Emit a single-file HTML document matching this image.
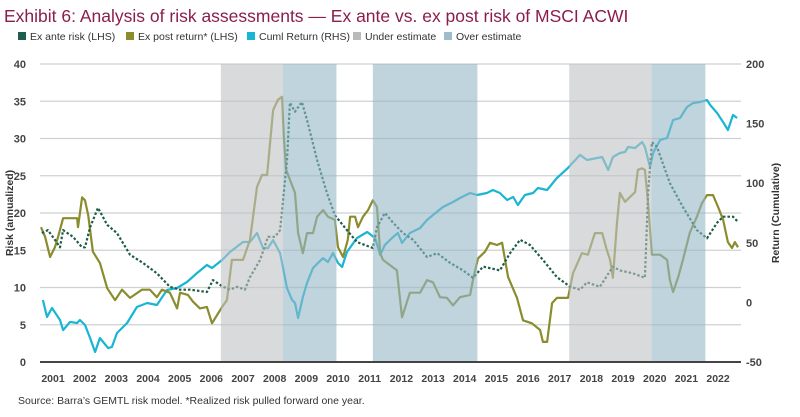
<!DOCTYPE html>
<html><head><meta charset="utf-8"><style>
body{margin:0;background:#fff;width:800px;height:412px;overflow:hidden;font-family:"Liberation Sans",sans-serif}
</style></head><body>
<svg id="c" width="800" height="412" xmlns="http://www.w3.org/2000/svg" font-family="Liberation Sans, sans-serif">
<text x="4" y="22" font-size="17.5" fill="#8b1d4d">Exhibit 6: Analysis of risk assessments — Ex ante vs. ex post risk of MSCI ACWI</text>
<g font-size="10.5" fill="#333">
<g><rect x="18" y="32" width="8" height="8" fill="#1d5e50"/><text x="30" y="40">Ex ante risk (LHS)</text></g>
<g><rect x="126" y="32" width="8" height="8" fill="#8a8c2e"/><text x="138" y="40">Ex post return* (LHS)</text></g>
<g><rect x="247" y="32" width="8" height="8" fill="#1ab5d3"/><text x="259" y="40">Cuml Return (RHS)</text></g>
<g><rect x="353" y="32" width="8" height="8" fill="#b9babc"/><text x="365" y="40">Under estimate</text></g>
<g><rect x="444" y="32" width="8" height="8" fill="#9fbccb"/><text x="456" y="40">Over estimate</text></g>
</g>
<g id="grid"></g><g id="lines"></g><g id="shade"></g><g id="axes"></g>
<text transform="translate(13,213) rotate(-90)" text-anchor="middle" font-size="10.5" font-weight="bold" fill="#333">Risk (annualized)</text>
<text transform="translate(779,213) rotate(-90)" text-anchor="middle" font-size="10.5" font-weight="bold" fill="#333">Return (Cumulative)</text>
<text x="18" y="404" font-size="10.5" fill="#333">Source: Barra’s GEMTL risk model. *Realized risk pulled forward one year.</text>
</svg>
<script>
const leftTicks=[0,5,10,15,20,25,30,35,40];
const rightTicks=[-50,0,50,100,150,200];
const yearLabels=[2001,2002,2003,2004,2005,2006,2007,2008,2009,2010,2011,2012,2013,2014,2015,2016,2017,2018,2019,2020,2021,2022];
const underStart=[2006.3,2017.3];
const underEnd=[2008.26,2019.9];
const overStart=[2008.26,2011.1,2019.9];
const overEnd=[2009.95,2014.4,2021.6];
const exPostDates=[2000.62,2000.75,2000.91,2001.06,2001.16,2001.32,2001.76,2001.79,2001.92,2002.01,2002.11,2002.26,2002.48,2002.71,2002.96,2003.18,2003.43,2003.81,2004.06,2004.28,2004.44,2004.69,2004.92,2005.01,2005.26,2005.42,2005.64,2005.86,2006.02,2006.18,2006.34,2006.49,2006.65,2007.00,2007.22,2007.44,2007.60,2007.76,2007.95,2008.10,2008.23,2008.29,2008.36,2008.64,2008.74,2008.89,2009.02,2009.21,2009.34,2009.53,2009.68,2009.90,2010.00,2010.16,2010.31,2010.38,2010.54,2010.63,2010.79,2010.95,2011.10,2011.23,2011.33,2011.42,2011.86,2012.02,2012.27,2012.59,2012.81,2013.00,2013.22,2013.44,2013.63,2013.85,2014.17,2014.26,2014.42,2014.64,2014.80,2015.02,2015.18,2015.37,2015.65,2015.84,2016.12,2016.38,2016.47,2016.60,2016.76,2016.91,2017.26,2017.42,2017.70,2017.89,2018.11,2018.34,2018.49,2018.59,2018.68,2018.81,2018.90,2019.06,2019.38,2019.47,2019.60,2019.69,2019.79,2019.91,2020.17,2020.39,2020.48,2020.58,2020.74,2020.89,2021.11,2021.33,2021.49,2021.65,2021.84,2022.00,2022.16,2022.31,2022.44,2022.53,2022.63];
const exPostValues=[18.1,16.8,14.1,15.4,16.8,19.3,19.3,18.1,22.1,21.7,19.7,14.8,13.3,9.9,8.3,9.7,8.6,9.7,9.7,8.7,9.7,9.3,7.2,9.3,9.0,8.1,7.2,7.4,5.2,6.3,7.4,8.3,13.7,13.7,16.4,23.5,25.1,25.1,33.8,35.2,35.6,30,25.8,22.7,17.3,14.6,17.3,17.3,19.5,20.4,19.5,19.1,15.4,14.1,16.4,19.5,19.5,18.1,19.5,20.4,21.7,20.8,14.6,13.7,12.3,6.0,9.3,9.3,11.0,10.7,8.7,8.6,7.6,8.7,9.0,11.0,13.9,14.8,16.0,15.7,16.0,11.4,8.6,5.6,5.2,4.3,2.7,2.7,7.9,8.6,8.6,11.9,14.6,14.4,17.3,17.3,15.0,13.7,11.3,18.7,22.7,21.5,22.8,25.8,26.0,25.8,21.3,14.4,14.4,13.7,11.0,9.4,11.4,13.7,17.4,19.5,21.3,22.4,22.4,20.8,19.1,16.1,15.3,16.1,15.4];
const exAnteDates=[2000.65,2000.84,2001.06,2001.22,2001.32,2001.63,2001.92,2002.01,2002.17,2002.42,2002.71,2003.02,2003.43,2003.84,2004.28,2004.69,2005.01,2005.33,2005.86,2006.05,2006.37,2006.59,2006.81,2007.06,2007.22,2007.54,2007.79,2008.01,2008.17,2008.39,2008.48,2008.64,2008.86,2009.02,2009.34,2009.65,2009.90,2010.28,2010.60,2011.10,2011.23,2011.48,2011.74,2012.05,2012.37,2012.81,2013.13,2013.54,2013.95,2014.26,2014.58,2015.11,2015.43,2015.75,2016.06,2016.47,2016.91,2017.33,2017.64,2017.86,2018.27,2018.68,2018.90,2019.31,2019.69,2019.79,2019.91,2020.07,2020.48,2020.89,2021.33,2021.65,2021.97,2022.16,2022.47,2022.63];
const exAnteValues=[17.3,17.7,16.4,15.4,17.7,16.8,15.4,15.4,18.1,20.7,18.4,17.3,14.4,13.3,11.9,10.1,9.7,9.7,9.4,11.0,10.1,9.7,10.1,9.7,11.4,13.7,16.8,16.8,17.7,27.1,34.8,33.6,34.9,32.5,27.1,22.7,19.7,17.7,16.1,15.3,18.1,20.0,18.7,17.3,16.4,14.1,14.6,13.3,12.3,11.3,12.8,12.3,14.6,16.4,15.7,13.7,11.4,10.1,9.7,10.7,10.1,12.8,12.3,11.9,11.3,22.7,29.5,28.9,24.0,20.8,17.7,16.6,18.7,19.5,19.5,18.8];
const cumlDates=[2000.68,2000.81,2000.97,2001.22,2001.32,2001.54,2001.76,2001.85,2002.01,2002.17,2002.33,2002.48,2002.74,2002.86,2003.02,2003.34,2003.65,2003.97,2004.28,2004.60,2004.92,2005.23,2005.55,2005.86,2006.02,2006.34,2006.59,2007.00,2007.22,2007.44,2007.63,2007.79,2007.95,2008.17,2008.39,2008.55,2008.64,2008.74,2008.89,2009.02,2009.21,2009.37,2009.53,2009.68,2009.84,2010.00,2010.13,2010.28,2010.60,2010.92,2011.17,2011.33,2011.48,2011.74,2011.89,2012.02,2012.27,2012.59,2012.81,2013.00,2013.31,2013.63,2013.85,2014.17,2014.39,2014.70,2014.89,2015.11,2015.34,2015.53,2015.68,2015.90,2016.16,2016.31,2016.60,2016.91,2017.26,2017.64,2017.86,2018.18,2018.34,2018.53,2018.68,2018.90,2019.06,2019.16,2019.38,2019.60,2019.69,2019.85,2019.95,2020.17,2020.39,2020.58,2020.80,2021.02,2021.21,2021.43,2021.65,2021.75,2021.97,2022.16,2022.31,2022.47,2022.60];
const cumlValues=[2.0,-12.2,-4.7,-14.8,-23.2,-16.4,-17.3,-14.8,-19.0,-29.9,-41.6,-29.9,-38.3,-37.4,-25.7,-17.3,-3.9,-0.5,-2.2,10.4,12.1,17.1,24.7,31.4,28.9,35.6,42.3,50.7,50.7,58.2,45.6,45.6,52.3,41.4,12,2.0,-0.5,-13.1,4.5,16.3,28.9,33.1,37.2,33.9,41.4,33.1,29.7,42.3,54.0,59.1,54.0,39.8,48.2,54.9,58.2,49.8,58.2,62.4,69.1,73.3,80.0,84.2,87.6,91.8,90.1,91.8,94.3,91.8,85.9,88.4,81.7,90.1,91.8,96.0,94.3,104.4,112.8,123.7,119.5,121.1,122.0,111.1,122.0,125.3,126.2,130.4,129.5,134.6,130.4,113.6,125.3,136.2,137.9,153.0,154.7,163.9,167.3,168.1,169.8,165.6,158.9,151.3,144.6,157.2,154.7];

const NS='http://www.w3.org/2000/svg';
const X0=40,X1=741,YT=64,YB=362;
const xs=t=>53+(t-2001)*31.67;
const yl=v=>YB-(v/40)*(YB-YT);
const yr=v=>YB-((v+50)/250)*(YB-YT);
function mk(tag,attrs,parent){const e=document.createElementNS(NS,tag);for(const k in attrs)e.setAttribute(k,attrs[k]);parent.appendChild(e);return e;}
const grid=document.getElementById('grid'),lines=document.getElementById('lines'),shade=document.getElementById('shade'),axes=document.getElementById('axes');
leftTicks.forEach(v=>{
  if(v>0){const g=mk('line',{x1:X0,x2:X1,y1:yl(v),y2:yl(v),stroke:'#cfd0d2','stroke-width':1.2},grid);
  
  }
  const t=mk('text',{x:26,y:yl(v)+4,'text-anchor':'end','font-size':11,'font-weight':'bold',fill:'#444'},axes);t.textContent=v;
  
  
});
rightTicks.forEach(v=>{
  const t=mk('text',{x:746,y:yr(v)+4,'font-size':11,'font-weight':'bold',fill:'#444'},axes);t.textContent=v;
  
  
});
yearLabels.forEach(y=>{
  const t=mk('text',{x:xs(y),y:382,'text-anchor':'middle','font-size':10.5,'font-weight':'bold',fill:'#444'},axes);t.textContent=y;
  
  
});
const base=mk('line',{x1:X0,x2:X1,y1:YB,y2:YB,stroke:'#444','stroke-width':2},axes);


function series(d,v,yf,color,name,dash){
  const pts=d.map((t,i)=>xs(t).toFixed(1)+','+yf(v[i]).toFixed(1)).join(' ');
  const a={points:pts,fill:'none',stroke:color,'stroke-width':2.2,'stroke-linejoin':'round'};
  if(dash)a['stroke-dasharray']=dash;
  const p=mk('polyline',a,lines);
  
  
}
series(cumlDates,cumlValues,yr,'#1ab5d3','cuml-return-line');
series(exPostDates,exPostValues,yl,'#8a8c2e','ex-post-line');
series(exAnteDates,exAnteValues,yl,'#1d5e46','ex-ante-line','2.5,2');
underStart.forEach((s,i)=>{
  const r=mk('rect',{x:xs(s),y:YT,width:xs(underEnd[i])-xs(s),height:YB-YT,fill:'#c0c1c4','fill-opacity':0.6},shade);
  
  
});
overStart.forEach((s,i)=>{
  const r=mk('rect',{x:xs(s),y:YT,width:xs(overEnd[i])-xs(s),height:YB-YT,fill:'#94b7c6','fill-opacity':0.6},shade);
  
  
});
</script>
</body></html>
